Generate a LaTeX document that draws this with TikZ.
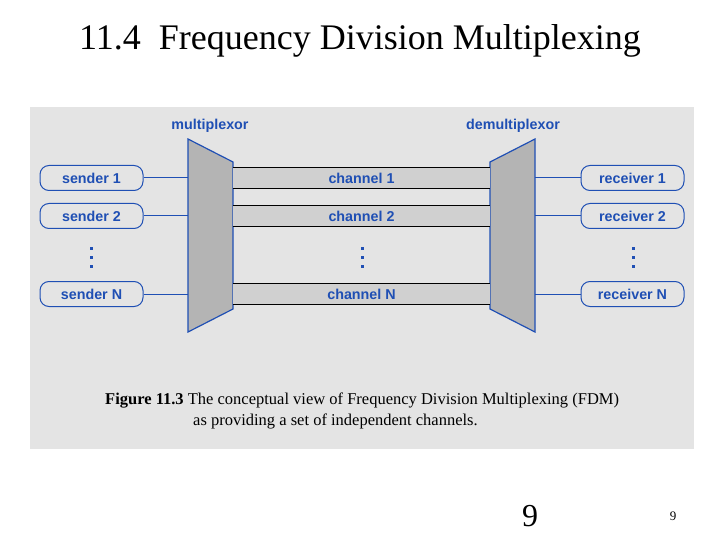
\documentclass[tikz,border=0pt]{standalone}
\usepackage{fontspec}
\setmainfont{Liberation Serif}
\setsansfont{Liberation Sans}
\usepackage{tikz}
\usetikzlibrary{positioning,calc}
\definecolor{panel}{HTML}{E4E4E4}
\definecolor{ink}{HTML}{1F4FB4}
\definecolor{muxgray}{HTML}{B4B4B4}
\definecolor{band}{HTML}{D0D0D0}
\tikzset{endbox/.style={draw=ink,line width=1pt,rounded corners=9pt,minimum width=103pt,minimum height=25pt,inner sep=0pt,font=\sffamily\bfseries\fontsize{14.3}{14.3}\selectfont,text=ink},chanband/.style={fill=band,minimum width=257pt,minimum height=20pt,inner sep=0pt,font=\sffamily\bfseries\fontsize{14.3}{14.3}\selectfont,text=ink},muxbody/.style={draw=ink,fill=muxgray,line width=1.2pt},wire/.style={draw=ink,line width=1pt},muxlabel/.style={font=\sffamily\bfseries\fontsize{14.3}{14.3}\selectfont,text=ink},caption/.style={font=\fontsize{16.5}{16.5}\selectfont,anchor=west,inner sep=0pt}}

\begin{document}
\begin{tikzpicture}[x=1pt,y=-1pt]
\useasboundingbox (0,0) rectangle (720,540);
\fill[panel] (30,107) rectangle (694,449);
\node[font=\fontsize{36}{36}\selectfont] (title) at (360,41) {11.4\ \ Frequency Division Multiplexing};
% multiplexor and demultiplexor
\draw[muxbody] (188,139) coordinate (mxa) -- (233,162) coordinate (mxb) -- (233,309) coordinate (mxc) -- (188,332) coordinate (mxd) -- cycle;
\draw[muxbody] (535,139) coordinate (dxa) -- (490,162) coordinate (dxb) -- (490,309) coordinate (dxc) -- (535,332) coordinate (dxd) -- cycle;
\node[muxlabel] (mxlab) at (210,126) {multiplexor};
\node[muxlabel] (dxlab) at (513,126) {demultiplexor};
% senders, channels, receivers
\foreach \n/\t/\y in {1/1/178,2/2/216,N/N/294}{
  \node[endbox] (s\n) at (91.5,\y) {sender \t};
  \node[endbox] (r\n) at (632.5,\y) {receiver \t};
  \node[chanband] (c\n) at (361.5,\y) {channel \t};
  \draw[black,line width=1.2pt] (c\n.north west) -- (c\n.north east) (c\n.south west) -- (c\n.south east);
  \draw[wire] (s\n.east) -- (s\n.east -| mxa);
  \draw[wire] (r\n.west) -- (r\n.west -| dxa);
}
% vertical dots
\foreach \x in {91,362,633}{\foreach \y in {248,257,266}{\fill[ink] (\x-1.5,\y-1.5) rectangle (\x+1.5,\y+1.5);}}
% caption
\node[caption] (cap1) at (105,401) {\textbf{Figure 11.3} The conceptual view of Frequency Division Multiplexing (FDM)};
\node[caption] (cap2) at (193,421) {as providing a set of independent channels.};
\node[font=\fontsize{32}{32}\selectfont] (pg) at (530,516) {9};
\node[font=\fontsize{13}{13}\selectfont] (pgs) at (673,516) {9};
\end{tikzpicture}
\end{document}
